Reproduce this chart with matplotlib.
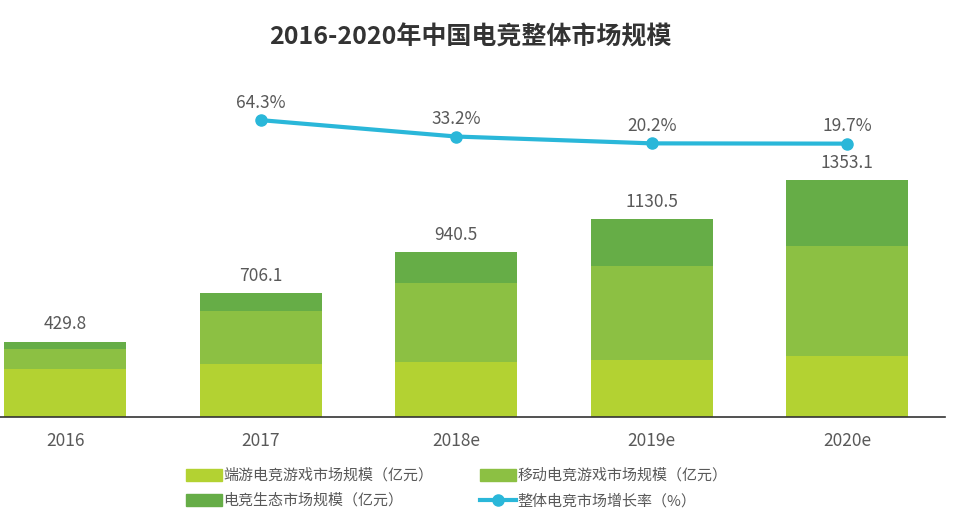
import matplotlib.pyplot as plt
from matplotlib.patches import Patch
from matplotlib.lines import Line2D
import numpy as np

plt.rcParams['font.family'] = ['Noto Sans CJK SC', 'DejaVu Sans']

years = ["2016", "2017", "2018e", "2019e", "2020e"]
pc_game = [274, 303, 315, 326, 349]
mobile_game = [115, 302, 451, 537, 628]
ecosystem = [40.8, 101.1, 174.5, 267.5, 376.1]
totals = [429.8, 706.1, 940.5, 1130.5, 1353.1]
growth = [None, 64.3, 33.2, 20.2, 19.7]

labels = ["端游电竞游戏市场规模（亿元）", "移动电竞游戏市场规模（亿元）",
          "电竞生态市场规模（亿元）", "整体电竞市场增长率（%）"]
colors = ["#b3d232", "#8cc043", "#66ad47"]
line_color = "#2ab7d9"
text_color = "#595959"

fig = plt.figure(figsize=(9.59, 5.21), dpi=100)
ax = fig.add_axes([0.0, 1 - 417 / 521, 945 / 959, 317 / 521])

x = np.arange(len(years))
w = 0.625
bottom2 = np.array(pc_game)
bottom3 = bottom2 + np.array(mobile_game)
ax.bar(x, pc_game, w, color=colors[0])
ax.bar(x, mobile_game, w, bottom=bottom2, color=colors[1])
ax.bar(x, ecosystem, w, bottom=bottom3, color=colors[2])

# total value above each bar
for xi, t in zip(x, totals):
    ax.annotate(f"{t:.1f}", (xi, t), xytext=(0, 6), textcoords="offset points",
                ha="center", va="bottom", fontsize=12.5, fontweight="light",
                color=text_color)

ax.set_xlim(-0.333, 4.5)
ax.set_ylim(0, 1809)
ax.set_xticks(x)
ax.set_xticklabels(years, fontsize=12.5, fontweight="light", color=text_color)
ax.tick_params(axis="x", length=0, pad=11)
ax.set_yticks([])
for s in ["top", "right", "left"]:
    ax.spines[s].set_visible(False)
ax.spines["bottom"].set_color("#333333")
ax.spines["bottom"].set_linewidth(1.2)

# growth rate line on its own scale
ax2 = ax.twinx()
gx = [xi for xi, g in zip(x, growth) if g is not None]
gy = [g for g in growth if g is not None]
ax2.plot(gx, gy, color=line_color, linewidth=3, marker="o", markersize=8)
for xi, g in zip(gx, gy):
    ax2.annotate(f"{g}%", (xi, g), xytext=(0, 6), textcoords="offset points",
                 ha="center", va="bottom", fontsize=12.5, fontweight="light",
                 color=text_color)
ax2.set_ylim(-499, 102.5)
ax2.set_yticks([])
for s in ["top", "right", "left", "bottom"]:
    ax2.spines[s].set_visible(False)

fig.text(0.49, 0.928, "2016-2020年中国电竞整体市场规模", ha="center", va="center",
         fontsize=18, fontweight="bold", color="#333333")

handles = [Patch(color=colors[0]), Patch(color=colors[2]),
           Patch(color=colors[1]),
           Line2D([], [], color=line_color, linewidth=3, marker="o", markersize=8)]
hl = [labels[0], labels[2], labels[1], labels[3]]
fig.legend(handles, hl, ncol=2, loc="upper left", bbox_to_anchor=(178 / 959, 0.115),
           frameon=False, fontsize=10.8, handlelength=2.4, handleheight=0.85,
           handletextpad=0.1, columnspacing=3.1, labelspacing=0.7,
           borderpad=0.0, labelcolor=text_color)

plt.savefig("out.png", dpi=100)
